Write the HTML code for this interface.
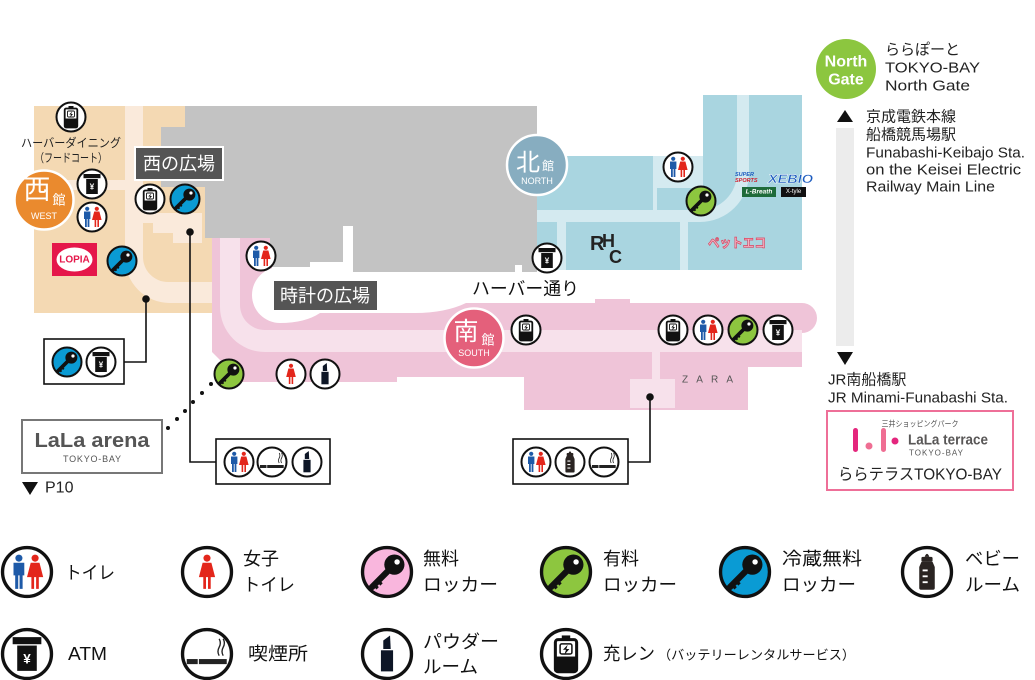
<!DOCTYPE html>
<html><head><meta charset="utf-8"><style>
html,body{margin:0;padding:0;background:#fff;}
svg{display:block;}
text{font-family:"Liberation Sans","Noto Sans CJK JP",sans-serif;}
</style></head><body>
<svg width="1035" height="680" viewBox="0 0 1035 680" xmlns="http://www.w3.org/2000/svg">
<defs>
  <g id="kg" transform="scale(1.15)">
    <path d="M1.5,-1.5 L-7.8,7.8" stroke="#111" stroke-width="3.2" stroke-linecap="round"/>
    <path d="M-4.6,4.6 l1.8,1.8 M-6.6,6.6 l1.8,1.8" stroke="#111" stroke-width="1.7"/>
    <circle cx="3.8" cy="-3.8" r="5.2" fill="#111"/>
    <circle cx="5.2" cy="-5.2" r="1.4" fill="#fff"/>
  </g>
  <symbol id="toilet" viewBox="-16 -16 32 32" overflow="visible">
    <circle r="14.5" fill="#fff" stroke="#111" stroke-width="2"/>
    <circle cx="-4.8" cy="-8.2" r="2.1" fill="#1e5aa8"/>
    <path d="M-8,-5.5 L-1.6,-5.5 L-1.6,2 L-2.6,2 L-2.6,10 L-4.4,10 L-4.4,2 L-5.2,2 L-5.2,10 L-7,10 L-7,2 L-8,2 Z" fill="#1e5aa8"/>
    <circle cx="4.8" cy="-8.2" r="2.1" fill="#e3261b"/>
    <path d="M2.2,-5.5 L7.4,-5.5 L9.6,3 L7,3 L7,10 L5.4,10 L5.4,3 L4.2,3 L4.2,10 L2.6,10 L2.6,3 L0,3 Z" fill="#e3261b"/>
  </symbol>
  <symbol id="female" viewBox="-16 -16 32 32" overflow="visible">
    <circle r="14.5" fill="#fff" stroke="#111" stroke-width="2"/>
    <g transform="translate(-4.8,0)">
      <circle cx="4.8" cy="-8.2" r="2.1" fill="#e3261b"/>
      <path d="M2.2,-5.5 L7.4,-5.5 L9.6,3 L7,3 L7,10 L5.4,10 L5.4,3 L4.2,3 L4.2,10 L2.6,10 L2.6,3 L0,3 Z" fill="#e3261b"/>
    </g>
  </symbol>
  <symbol id="keyG" viewBox="-16 -16 32 32" overflow="visible">
    <circle r="14.5" fill="#8dc63f" stroke="#111" stroke-width="2"/><use href="#kg"/>
  </symbol>
  <symbol id="keyB" viewBox="-16 -16 32 32" overflow="visible">
    <circle r="14.5" fill="#0a9bd4" stroke="#111" stroke-width="2"/><use href="#kg"/>
  </symbol>
  <symbol id="keyP" viewBox="-16 -16 32 32" overflow="visible">
    <circle r="14.5" fill="#f9b6dd" stroke="#111" stroke-width="2"/><use href="#kg"/>
  </symbol>
  <symbol id="atm" viewBox="-16 -16 32 32" overflow="visible">
    <circle r="14.5" fill="#fff" stroke="#111" stroke-width="2"/>
    <rect x="-8.5" y="-10" width="17" height="4.2" fill="#111"/>
    <rect x="-5.8" y="-5" width="11.6" height="15" fill="#111"/>
    <text x="0" y="3" font-size="8" fill="#fff" text-anchor="middle" dominant-baseline="central" font-weight="bold">¥</text>
  </symbol>
  <symbol id="battery" viewBox="-16 -16 32 32" overflow="visible">
    <circle r="14.5" fill="#fff" stroke="#111" stroke-width="2"/>
    <rect x="-2.5" y="-11" width="5" height="2.5" fill="#111"/>
    <rect x="-6.3" y="-8.5" width="12.6" height="19" rx="1.5" fill="#fff" stroke="#111" stroke-width="1.8"/>
    <rect x="-6.3" y="1.5" width="12.6" height="9" fill="#111"/>
    <rect x="-3.5" y="-6" width="7" height="6" rx="1" fill="none" stroke="#111" stroke-width="0.9"/>
    <path d="M1,-5.5 L-1.8,-2.5 L0,-2.5 L-1,0.5 L2,-3 L0.2,-3 Z" fill="#111"/>
  </symbol>
  <symbol id="lipstick" viewBox="-16 -16 32 32" overflow="visible">
    <circle r="14.5" fill="#fff" stroke="#111" stroke-width="2"/>
    <path d="M-2.2,-3 V-8 L1.8,-11 L2.2,-3 Z" fill="#0d1626"/>
    <rect x="-3.6" y="-2.2" width="7.2" height="12.5" fill="#0d1626"/>
  </symbol>
  <symbol id="smoking" viewBox="-16 -16 32 32" overflow="visible">
    <circle r="14.5" fill="#fff" stroke="#111" stroke-width="2"/>
    <rect x="-12" y="3" width="6.5" height="3" fill="#222"/>
    <rect x="-4.8" y="3" width="16.5" height="3" fill="#222"/>
    <path d="M7.2,1 q-1.4,-2.5 0,-5 q1.4,-2.5 0,-5 M9.6,1 q-1.4,-2.5 0,-5 q1.4,-2.5 0,-5" stroke="#222" fill="none" stroke-width="0.8"/>
  </symbol>
  <symbol id="bottle" viewBox="-16 -16 32 32" overflow="visible">
    <circle r="14.5" fill="#fff" stroke="#111" stroke-width="2"/>
    <path d="M-1.4,-9 Q0,-12.5 1.4,-9 Z" fill="#2a2422"/>
    <rect x="-3.3" y="-9" width="6.6" height="3" rx="0.8" fill="#2a2422"/>
    <path d="M-3.3,-6 L3.3,-6 L4.6,-3 L4.6,9.5 Q4.6,10.5 3.6,10.5 L-3.6,10.5 Q-4.6,10.5 -4.6,9.5 L-4.6,-3 Z" fill="#2a2422"/>
    <rect x="-2.6" y="-1.5" width="3" height="1.1" fill="#fff"/>
    <rect x="-2.6" y="2" width="3" height="1.1" fill="#fff"/>
    <rect x="-2.6" y="5.5" width="3" height="1.1" fill="#fff"/>
  </symbol>
</defs>

<!-- ===== WEST (tan) ===== -->
<rect x="34" y="106" width="181" height="207" fill="#f4d9b3"/>
<path d="M125,106 H143 V257 A25,25 0 0 0 168,282 H215 V303 H170 A45,45 0 0 1 125,258 Z" fill="#faeadb"/>
<rect x="34" y="180" width="91" height="10" fill="#faeadb"/>
<polygon points="143,213 202,213 202,243 173,243 173,233 153,233 153,223 143,223" fill="#faeadb"/>

<!-- ===== NORTH (blue) ===== -->
<rect x="537" y="156" width="265" height="114" fill="#a9d5e0"/>
<rect x="703" y="95" width="99" height="61" fill="#a9d5e0"/>
<path d="M537,210 H700 A37,37 0 0 0 737,173 V95 H749 V173 A49,49 0 0 1 700,222 H537 Z" fill="#d4eaf0"/>
<rect x="557" y="222" width="9" height="48" fill="#d4eaf0"/>
<rect x="680" y="222" width="8" height="48" fill="#d4eaf0"/>
<rect x="653" y="156" width="50" height="32" fill="#d4eaf0"/>
<rect x="653" y="188" width="4" height="22" fill="#d4eaf0"/>

<!-- ===== SOUTH (pink) ===== -->
<path d="M212,238 H272 V303 H595 V299 H630 V303 H802 A15,15 0 0 1 802,333 V367 H748 V410 H524 V377 H397 V382 H222 V362 L212,352 Z" fill="#efc4d8"/>
<path d="M220,238 H240 V305 A25,25 0 0 0 265,330 H802 V352 H265 A45,45 0 0 1 220,307 Z" fill="#f7e1eb"/>
<rect x="652" y="352" width="8" height="28" fill="#f7e1eb"/>
<rect x="630" y="379" width="45" height="29" fill="#f7e1eb"/>
<path d="M280,267 H466 V303 Q445,313 415,313 H320 Q305,323 280,323 A28,28 0 0 1 280,267 Z" fill="#fff"/>

<!-- ===== GRAY ===== -->
<polygon points="185,106 537,106 537,272 353,272 353,226 343,226 343,262 310,262 310,267 270,267 270,238 205,238 205,187 161,187 161,127 185,127" fill="#c3c3c3"/>
<rect x="515" y="265" width="7" height="8" fill="#fff"/>

<!-- ===== Region circles ===== -->
<circle cx="44" cy="200" r="29.5" fill="#ea8a2e" stroke="#fff" stroke-width="2.5"/>
<text x="37" y="190" font-size="27" fill="#fff" text-anchor="middle" dominant-baseline="central">西</text>
<text x="59" y="200" font-size="13" fill="#fff" text-anchor="middle" dominant-baseline="central">館</text>
<text x="44" y="216" font-size="9" fill="#fff" text-anchor="middle" dominant-baseline="central">WEST</text>

<circle cx="537" cy="165" r="30" fill="#87adc0" stroke="#fff" stroke-width="2.5"/>
<text x="528" y="163" font-size="24" fill="#fff" text-anchor="middle" dominant-baseline="central">北</text>
<text x="548" y="166" font-size="12" fill="#fff" text-anchor="middle" dominant-baseline="central">館</text>
<text x="537" y="181" font-size="9" fill="#fff" text-anchor="middle" dominant-baseline="central">NORTH</text>

<circle cx="474" cy="338" r="29.5" fill="#e4607b" stroke="#fff" stroke-width="2.5"/>
<text x="466" y="332" font-size="25" fill="#fff" text-anchor="middle" dominant-baseline="central">南</text>
<text x="488" y="340" font-size="13" fill="#fff" text-anchor="middle" dominant-baseline="central">館</text>
<text x="474" y="353" font-size="9" fill="#fff" text-anchor="middle" dominant-baseline="central">SOUTH</text>

<!-- ===== Labels ===== -->
<text x="71" y="143" font-size="12" fill="#222" text-anchor="middle" dominant-baseline="central" textLength="100" lengthAdjust="spacingAndGlyphs">ハーバーダイニング</text>
<text x="71" y="158" font-size="12" fill="#222" text-anchor="middle" dominant-baseline="central" textLength="72" lengthAdjust="spacingAndGlyphs">（フードコート）</text>

<rect x="135" y="147" width="88" height="33" fill="#555" stroke="#fff" stroke-width="2"/>
<text x="179" y="164" font-size="18" fill="#fff" text-anchor="middle" dominant-baseline="central">西の広場</text>

<rect x="273" y="280" width="105" height="31" fill="#555" stroke="#fff" stroke-width="2"/>
<text x="325" y="296" font-size="18" fill="#fff" text-anchor="middle" dominant-baseline="central">時計の広場</text>

<text x="472" y="289" font-size="18" fill="#111" dominant-baseline="central" textLength="107" lengthAdjust="spacingAndGlyphs">ハーバー通り</text>

<!-- LOPIA -->
<rect x="52" y="243" width="45" height="33" fill="#e5174a"/>
<ellipse cx="74.5" cy="259.5" rx="18" ry="12" fill="#fff"/>
<text x="74.5" y="260" font-size="10" font-weight="bold" fill="#e5174a" text-anchor="middle" dominant-baseline="central">LOPIA</text>

<!-- North logos -->
<text x="735" y="176" font-size="5.5" font-weight="bold" font-style="italic" fill="#1b5bbf">SUPER</text>
<text x="735" y="182" font-size="5.5" font-weight="bold" font-style="italic" fill="#d01f2e">SPORTS</text>
<text x="768" y="183" font-size="12" font-weight="bold" font-style="italic" fill="#1b5bbf" stroke="#fff" stroke-width="0.4" textLength="45" lengthAdjust="spacingAndGlyphs">XEBIO</text>
<rect x="742" y="187" width="34" height="10" fill="#1e6b3a"/>
<text x="759" y="192" font-size="6.5" font-weight="bold" font-style="italic" fill="#fff" text-anchor="middle" dominant-baseline="central">L-Breath</text>
<rect x="781" y="187" width="25" height="10" fill="#111"/>
<text x="793.5" y="192" font-size="6" fill="#fff" text-anchor="middle" dominant-baseline="central">X-tyle</text>
<text x="590" y="250" font-size="20" font-weight="bold" fill="#222" font-family="Liberation Serif, serif">R</text>
<text x="602" y="247" font-size="18" font-weight="bold" fill="#222" font-family="Liberation Serif, serif">H</text>
<text x="609" y="263" font-size="18" font-weight="bold" fill="#222" font-family="Liberation Serif, serif">C</text>
<text x="708" y="243" font-size="13" font-weight="bold" fill="#f3b3c3" stroke="#d9435f" stroke-width="0.7" textLength="58" lengthAdjust="spacingAndGlyphs" dominant-baseline="central">ペットエコ</text>

<text x="682" y="380" font-size="10" fill="#555" font-family="Liberation Serif, serif" textLength="51" lengthAdjust="spacing" dominant-baseline="central">ZARA</text>

<!-- ===== Connectors ===== -->
<g stroke="#111" stroke-width="1.6" fill="none">
  <polyline points="146,299 146,362 124,362"/>
  <polyline points="190,232 190,462 216,462"/>
  <polyline points="650,397 650,462 628,462"/>
</g>
<circle cx="146" cy="299" r="3.8" fill="#111"/>
<circle cx="190" cy="232" r="3.8" fill="#111"/>
<circle cx="650" cy="397" r="3.8" fill="#111"/>
<g fill="#111">
  <circle cx="168" cy="428" r="2"/><circle cx="177" cy="419" r="2"/><circle cx="185" cy="411" r="2"/>
  <circle cx="193" cy="402" r="2"/><circle cx="202" cy="393" r="2"/><circle cx="211" cy="384" r="2"/>
</g>

<!-- Boxes -->
<rect x="44" y="339" width="80" height="45" fill="#fff" stroke="#111" stroke-width="1.6"/>
<rect x="216" y="439" width="114" height="45" fill="#fff" stroke="#111" stroke-width="1.6"/>
<rect x="513" y="439" width="115" height="45" fill="#fff" stroke="#111" stroke-width="1.6"/>

<!-- ===== Map icons ===== -->
<use href="#battery" x="55" y="101" width="32" height="32"/>
<use href="#atm" x="76" y="168" width="32" height="32"/>
<use href="#toilet" x="76" y="201" width="32" height="32"/>
<use href="#battery" x="134" y="183" width="32" height="32"/>
<use href="#keyB" x="169" y="183" width="32" height="32"/>
<use href="#keyB" x="106" y="245" width="32" height="32"/>

<use href="#keyB" x="51" y="346" width="32" height="32"/>
<use href="#atm" x="85" y="346" width="32" height="32"/>

<use href="#toilet" x="245" y="240" width="32" height="32"/>
<use href="#keyG" x="213" y="358" width="32" height="32"/>
<use href="#female" x="275" y="358" width="32" height="32"/>
<use href="#lipstick" x="309" y="358" width="32" height="32"/>

<use href="#toilet" x="223" y="446" width="32" height="32"/>
<use href="#smoking" x="256" y="446" width="32" height="32"/>
<use href="#lipstick" x="291" y="446" width="32" height="32"/>

<use href="#toilet" x="662" y="151" width="32" height="32"/>
<use href="#keyG" x="685" y="185" width="32" height="32"/>
<use href="#atm" x="531" y="242" width="32" height="32"/>

<use href="#battery" x="510" y="314" width="32" height="32"/>
<use href="#battery" x="657" y="314" width="32" height="32"/>
<use href="#toilet" x="692" y="314" width="32" height="32"/>
<use href="#keyG" x="727" y="314" width="32" height="32"/>
<use href="#atm" x="762" y="314" width="32" height="32"/>

<use href="#toilet" x="520" y="446" width="32" height="32"/>
<use href="#bottle" x="554" y="446" width="32" height="32"/>
<use href="#smoking" x="588" y="446" width="32" height="32"/>

<!-- LaLa arena -->
<rect x="22" y="420" width="140" height="53" fill="#fff" stroke="#777" stroke-width="2"/>
<text x="92" y="441" font-size="20" font-weight="bold" fill="#555" text-anchor="middle" dominant-baseline="central" textLength="115" lengthAdjust="spacingAndGlyphs">LaLa arena</text>
<text x="92" y="459" font-size="9" fill="#555" text-anchor="middle" dominant-baseline="central" textLength="58" lengthAdjust="spacing">TOKYO-BAY</text>
<polygon points="22,482 38,482 30,495" fill="#111"/>
<text x="45" y="488" font-size="16" fill="#222" dominant-baseline="central">P10</text>

<!-- ===== Right side ===== -->
<circle cx="846" cy="69" r="30" fill="#8cc63f"/>
<text x="846" y="62" font-size="16" font-weight="bold" fill="#fff" text-anchor="middle" dominant-baseline="central">North</text>
<text x="846" y="80" font-size="16" font-weight="bold" fill="#fff" text-anchor="middle" dominant-baseline="central">Gate</text>
<text x="885" y="50" font-size="15" fill="#222" dominant-baseline="central">ららぽーと</text>
<text x="885" y="68" font-size="15" fill="#222" dominant-baseline="central" textLength="95" lengthAdjust="spacingAndGlyphs">TOKYO-BAY</text>
<text x="885" y="86" font-size="15" fill="#222" dominant-baseline="central" textLength="85" lengthAdjust="spacingAndGlyphs">North Gate</text>

<polygon points="837,122 853,122 845,110" fill="#111"/>
<rect x="836" y="128" width="18" height="218" fill="#ececec"/>
<polygon points="837,352 853,352 845,365" fill="#111"/>

<text x="866" y="117" font-size="15" fill="#222" dominant-baseline="central">京成電鉄本線</text>
<text x="866" y="135" font-size="15" fill="#222" dominant-baseline="central">船橋競馬場駅</text>
<text x="866" y="153" font-size="15" fill="#222" dominant-baseline="central" textLength="159" lengthAdjust="spacingAndGlyphs">Funabashi-Keibajo Sta.</text>
<text x="866" y="170" font-size="15" fill="#222" dominant-baseline="central" textLength="155" lengthAdjust="spacingAndGlyphs">on the Keisei Electric</text>
<text x="866" y="187" font-size="15" fill="#222" dominant-baseline="central" textLength="129" lengthAdjust="spacingAndGlyphs">Railway Main Line</text>

<text x="828" y="380" font-size="15" fill="#222" dominant-baseline="central">JR南船橋駅</text>
<text x="828" y="398" font-size="15" fill="#222" dominant-baseline="central" textLength="180" lengthAdjust="spacingAndGlyphs">JR Minami-Funabashi Sta.</text>

<rect x="827" y="411" width="186" height="79" fill="#fff" stroke="#ee6f98" stroke-width="2"/>
<text x="920" y="424" font-size="8" fill="#555" text-anchor="middle" dominant-baseline="central" textLength="77" lengthAdjust="spacingAndGlyphs">三井ショッピングパーク</text>
<rect x="853" y="428" width="5" height="24" rx="2.5" fill="#e4267d"/>
<circle cx="869" cy="446" r="3.5" fill="#ef6e93"/>
<rect x="881" y="428" width="5" height="24" rx="2.5" fill="#ef6e93"/>
<circle cx="895" cy="441" r="3.5" fill="#e4267d"/>
<text x="908" y="440" font-size="15" font-weight="bold" fill="#595757" dominant-baseline="central" textLength="80" lengthAdjust="spacingAndGlyphs">LaLa terrace</text>
<text x="909" y="453" font-size="8" fill="#555" dominant-baseline="central" textLength="54" lengthAdjust="spacing">TOKYO-BAY</text>
<text x="920" y="475" font-size="16" fill="#222" text-anchor="middle" dominant-baseline="central" textLength="164" lengthAdjust="spacingAndGlyphs">ららテラスTOKYO-BAY</text>

<!-- ===== Legend ===== -->
<use href="#toilet" x="0" y="545" width="54" height="54"/>
<use href="#female" x="180" y="545" width="54" height="54"/>
<use href="#keyP" x="360" y="545" width="54" height="54"/>
<use href="#keyG" x="539" y="545" width="54" height="54"/>
<use href="#keyB" x="718" y="545" width="54" height="54"/>
<use href="#bottle" x="900" y="545" width="54" height="54"/>
<use href="#atm" x="0" y="627" width="54" height="54"/>
<use href="#smoking" x="180" y="627" width="54" height="54"/>
<use href="#lipstick" x="360" y="627" width="54" height="54"/>
<use href="#battery" x="539" y="627" width="54" height="54"/>

<g font-size="18" fill="#111" dominant-baseline="central">
  <text x="65" y="573" textLength="50" lengthAdjust="spacingAndGlyphs">トイレ</text>
  <text x="243" y="559">女子</text>
  <text x="243" y="585" textLength="52" lengthAdjust="spacingAndGlyphs">トイレ</text>
  <text x="423" y="559">無料</text>
  <text x="423" y="585" textLength="75" lengthAdjust="spacingAndGlyphs">ロッカー</text>
  <text x="603" y="559">有料</text>
  <text x="603" y="585" textLength="74" lengthAdjust="spacingAndGlyphs">ロッカー</text>
  <text x="782" y="559" textLength="80" lengthAdjust="spacingAndGlyphs">冷蔵無料</text>
  <text x="782" y="585" textLength="74" lengthAdjust="spacingAndGlyphs">ロッカー</text>
  <text x="965" y="559" textLength="55" lengthAdjust="spacingAndGlyphs">ベビー</text>
  <text x="965" y="585" textLength="55" lengthAdjust="spacingAndGlyphs">ルーム</text>
  <text x="68" y="654" textLength="39" lengthAdjust="spacingAndGlyphs">ATM</text>
  <text x="248" y="654" textLength="60" lengthAdjust="spacingAndGlyphs">喫煙所</text>
  <text x="423" y="642" textLength="76" lengthAdjust="spacingAndGlyphs">パウダー</text>
  <text x="423" y="667" textLength="55" lengthAdjust="spacingAndGlyphs">ルーム</text>
  <text x="603" y="654" textLength="52" lengthAdjust="spacingAndGlyphs">充レン</text>
</g>
<text x="658" y="655" font-size="13" fill="#111" dominant-baseline="central" textLength="197" lengthAdjust="spacingAndGlyphs">（バッテリーレンタルサービス）</text>
</svg>
</body></html>
